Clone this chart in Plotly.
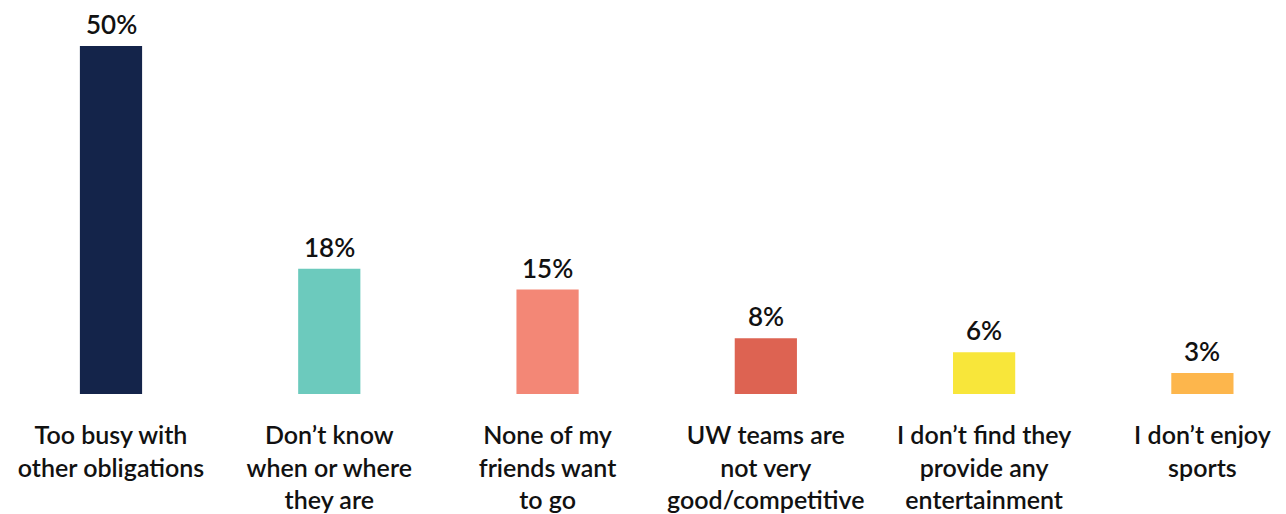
import plotly.graph_objects as go

# Survey: reasons for not attending UW sporting events
categories = [
    "Too busy with<br>other obligations",
    "Don’t know<br>when or where<br>they are",
    "None of my<br>friends want<br>to go",
    "UW teams are<br>not very<br>good/competitive",
    "I don’t find they<br>provide any<br>entertainment",
    "I don’t enjoy<br>sports",
]
shares = [50, 18, 15, 8, 6, 3]
percent_labels = ["50%", "18%", "15%", "8%", "6%", "3%"]
bar_colors = ["#14244a", "#6ccabd", "#f38776", "#dd6352", "#f8e63a", "#fdb64c"]

positions = list(range(len(categories)))

fig = go.Figure(
    go.Bar(
        x=positions,
        y=shares,
        marker=dict(color=bar_colors, line=dict(width=0)),
        width=0.285,
        hoverinfo="skip",
    )
)

# value labels sitting just above each bar
for xpos, val, lab in zip(positions, shares, percent_labels):
    fig.add_annotation(
        x=xpos,
        y=val,
        text=lab,
        showarrow=False,
        yanchor="bottom",
        yshift=4,
        font=dict(family="Lato", size=26, color="#111111", weight=600),
    )

fig.update_layout(
    width=1286,
    height=514,
    margin=dict(l=0, r=0, t=0, b=120, autoexpand=False),
    paper_bgcolor="white",
    plot_bgcolor="white",
    showlegend=False,
    font=dict(family="Lato", color="#111111"),
    xaxis=dict(
        tickmode="array",
        tickvals=positions,
        ticktext=categories,
        range=[-0.5085, 5.383],
        automargin=False,
        showgrid=False,
        zeroline=False,
        showline=False,
        ticks="",
        ticklabelstandoff=24,
        tickfont=dict(family="Lato", size=25, color="#111111", weight=600),
        fixedrange=True,
    ),
    yaxis=dict(
        range=[0, 56.6],
        visible=False,
        fixedrange=True,
    ),
)

fig.write_html("out.html")
